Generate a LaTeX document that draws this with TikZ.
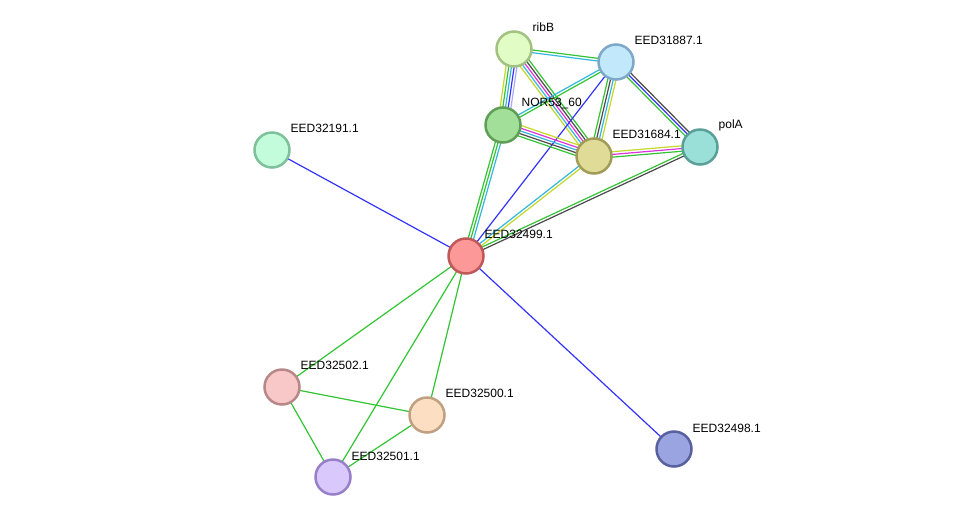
\documentclass[tikz,border=0pt]{standalone}
\usepackage{fontspec}
\setmainfont{Liberation Sans}
\usetikzlibrary{calc}
\pgfdeclarelayer{back}
\pgfdeclarelayer{bg}
\pgfsetlayers{back,bg,main}
\definecolor{eg}{HTML}{33C433}
\definecolor{ec}{HTML}{33B8DD}
\definecolor{eb}{HTML}{3333FF}
\definecolor{ey}{HTML}{C4D82A}
\definecolor{em}{HTML}{DD33DD}
\definecolor{ek}{HTML}{4A4A4A}
\definecolor{el}{HTML}{AAAAFF}
\definecolor{fribB}{HTML}{E2FCC6}\definecolor{dribB}{HTML}{A2C282}
\definecolor{f887}{HTML}{C2E8FC}\definecolor{d887}{HTML}{7EA8C8}
\definecolor{fnor}{HTML}{A2E09A}\definecolor{dnor}{HTML}{5E9E56}
\definecolor{f684}{HTML}{E0DC98}\definecolor{d684}{HTML}{A09C58}
\definecolor{fpol}{HTML}{9ADFD8}\definecolor{dpol}{HTML}{58A098}
\definecolor{f499}{HTML}{FC9898}\definecolor{d499}{HTML}{C05858}
\definecolor{f191}{HTML}{C2FCDA}\definecolor{d191}{HTML}{7EC09A}
\definecolor{f502}{HTML}{F8C8C8}\definecolor{d502}{HTML}{B88888}
\definecolor{f500}{HTML}{FCDFC2}\definecolor{d500}{HTML}{C0A080}
\definecolor{f501}{HTML}{D8C8FC}\definecolor{d501}{HTML}{9880C8}
\definecolor{f498}{HTML}{9AA4E0}\definecolor{d498}{HTML}{5860A0}
\tikzset{
  prot/.style n args={2}{circle, minimum size=35pt, inner sep=0pt, line width=2.5pt, fill=#1, draw=#2},
  lbl/.style={anchor=west, font=\fontsize{12}{14}\selectfont, inner sep=0.5pt},
  edg/.style={line width=1.2pt}
}
\newcommand\medge[4]{%
  \foreach \c [count=\i] in {#4} {
    \pgfmathsetmacro\off{(\i-1-(#3-1)/2)*2.7}
    \draw[edg, \c] ($(#1)!\off pt!90:(#2)$) -- ($(#2)!\off pt!-90:(#1)$);
  }%
}
\begin{document}
\begin{tikzpicture}[x=1pt,y=-1pt]
\begin{pgfonlayer}{back}
\useasboundingbox[fill=white] (0,0) rectangle (976,523);
\end{pgfonlayer}
% nodes
\node[prot={fribB}{dribB}] (ribB) at (514,49) {};
\node[prot={f887}{d887}] (e887) at (616,62) {};
\node[prot={fnor}{dnor}] (nor) at (503,125) {};
\node[prot={f684}{d684}] (e684) at (594,156) {};
\node[prot={fpol}{dpol}] (polA) at (700,147) {};
\node[prot={f499}{d499}] (e499) at (466,256) {};
\node[prot={f191}{d191}] (e191) at (272,150) {};
\node[prot={f502}{d502}] (e502) at (282,387) {};
\node[prot={f500}{d500}] (e500) at (427,415) {};
\node[prot={f501}{d501}] (e501) at (333,477) {};
\node[prot={f498}{d498}] (e498) at (674,449) {};
% labels
\node[lbl] (lribB) at ($(ribB)+(18,-22)$) {ribB};
\node[lbl] (l887) at ($(e887)+(18,-22)$) {EED31887.1};
\node[lbl] (lnor) at ($(nor)+(18,-22)$) {NOR53\_60};
\node[lbl] (l684) at ($(e684)+(18,-22)$) {EED31684.1};
\node[lbl] (lpolA) at ($(polA)+(18,-22)$) {polA};
\node[lbl] (l499) at ($(e499)+(18,-22)$) {EED32499.1};
\node[lbl] (l191) at ($(e191)+(18,-22)$) {EED32191.1};
\node[lbl] (l502) at ($(e502)+(18,-22)$) {EED32502.1};
\node[lbl] (l500) at ($(e500)+(18,-22)$) {EED32500.1};
\node[lbl] (l501) at ($(e501)+(18,-21)$) {EED32501.1};
\node[lbl] (l498) at ($(e498)+(18,-21)$) {EED32498.1};
% edges
\begin{pgfonlayer}{bg}
\medge{ribB}{e887}{2}{ec,eg}
\medge{ribB}{nor}{5}{ey,eg,ec,eb,el}
\medge{ribB}{e684}{5}{ey,ec,em,ek,eg}
\medge{e887}{nor}{2}{ec,eg}
\medge{e887}{e684}{4}{eg,ek,ec,ey}
\medge{e887}{polA}{3}{eg,eb,ek}
\medge{e887}{e499}{1}{eb}
\medge{nor}{e684}{5}{eg,ek,ec,em,ey}
\medge{nor}{e499}{3}{eg,eg,ec}
\medge{e684}{polA}{3}{eg,em,ey}
\medge{e684}{e499}{2}{ec,ey}
\medge{polA}{e499}{2}{eg,ek}
\medge{e191}{e499}{1}{eb}
\medge{e498}{e499}{1}{eb}
\medge{e499}{e502}{1}{eg}
\medge{e499}{e500}{1}{eg}
\medge{e499}{e501}{1}{eg}
\medge{e502}{e500}{1}{eg}
\medge{e502}{e501}{1}{eg}
\medge{e500}{e501}{1}{eg}
\end{pgfonlayer}
\end{tikzpicture}
\end{document}
